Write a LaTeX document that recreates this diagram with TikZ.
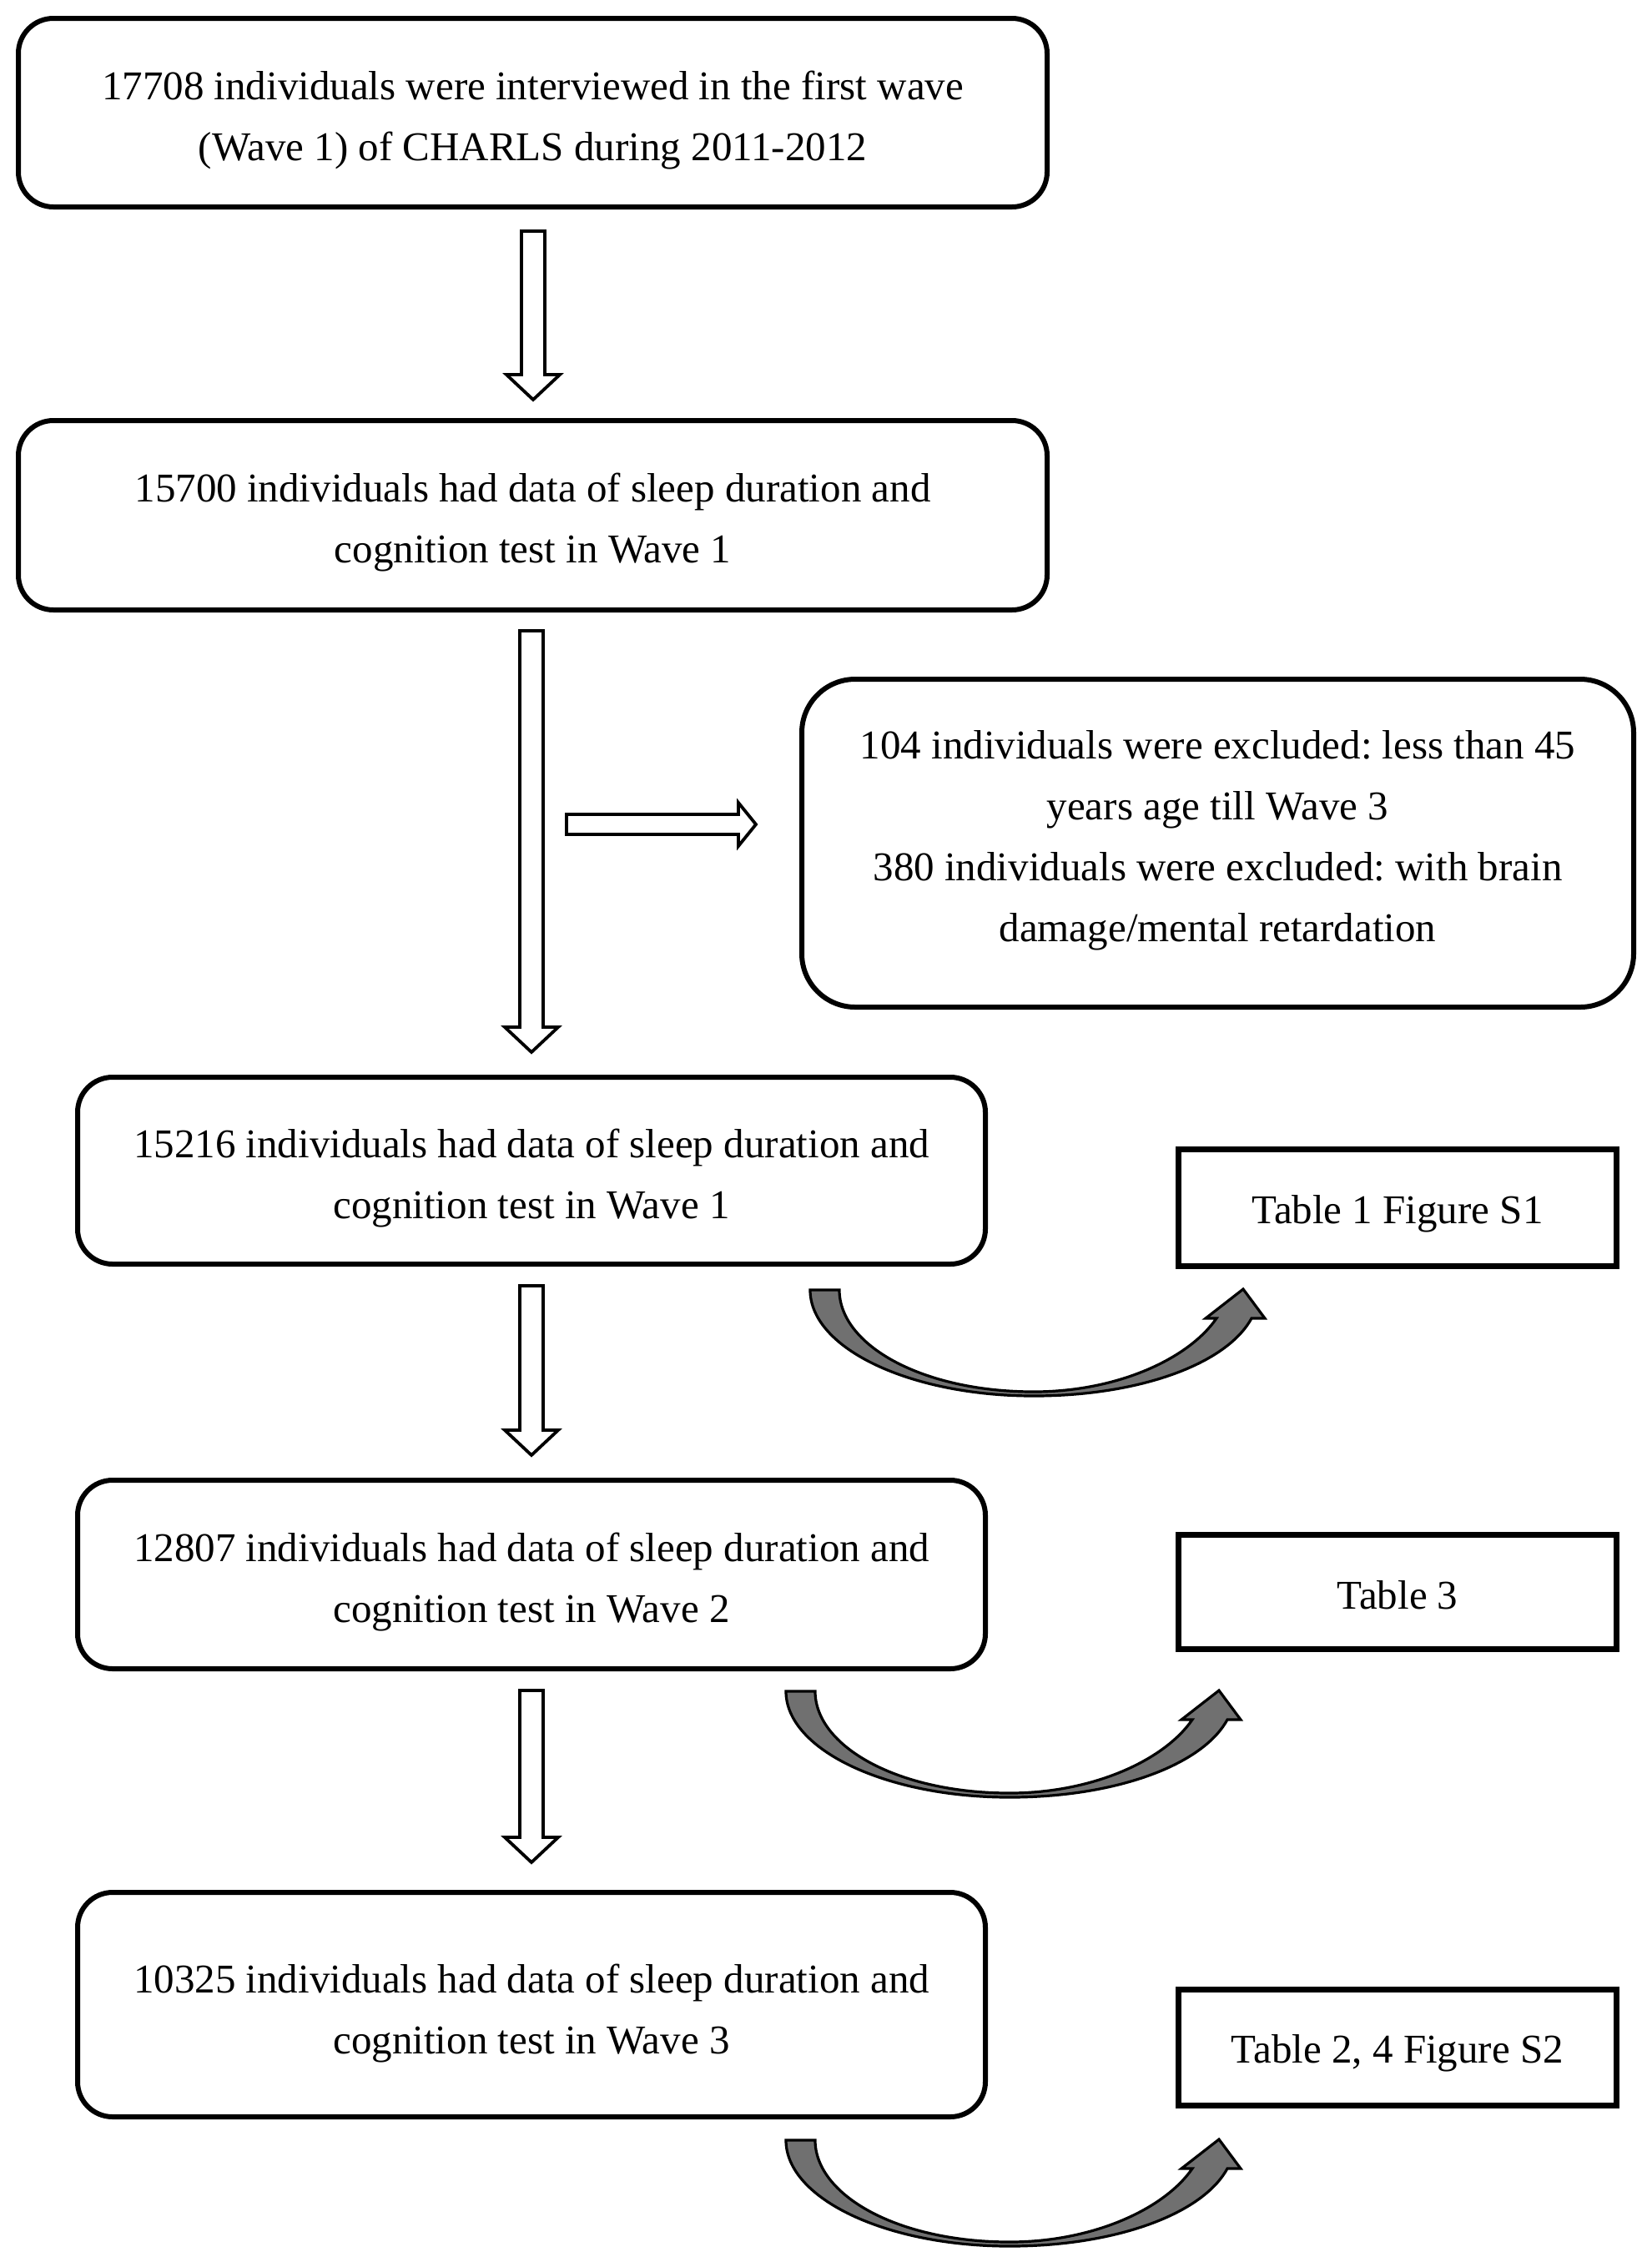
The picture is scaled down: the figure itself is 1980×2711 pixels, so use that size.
\documentclass[tikz,border=0pt]{standalone}
\usepackage{fontspec}
\setmainfont{Liberation Serif}
\frenchspacing
\definecolor{arrowgray}{RGB}{112,112,112}
\newcommand{\vblock}[3]{%
  \draw[hollow] ({#1-14},#2) -- ({#1+14},#2) -- ({#1+14},{#3-30}) -- ({#1+32},{#3-30}) -- (#1,#3) -- ({#1-32},{#3-30}) -- ({#1-14},{#3-30}) -- cycle;}
\newcommand{\curvedarrow}{%
  \draw[curved] (971,1546) .. controls (971,1616) and (1091,1673) .. (1239,1673)
    .. controls (1365,1673) and (1470,1635) .. (1500,1580) -- (1516,1580) -- (1490,1545) -- (1445,1580) -- (1458,1580)
    .. controls (1425,1628) and (1340,1668) .. (1239,1668)
    .. controls (1105,1668) and (1006,1612) .. (1006,1546) -- cycle;}
\begin{document}
\begin{tikzpicture}[x=0.5pt,y=-0.5pt,
  txt/.style={font=\fontsize{24.5pt}{36.5pt}\selectfont, align=center, inner sep=0pt},
  rbox/.style={draw, line width=3pt, rounded corners=21pt, inner sep=0pt},
  tbox/.style={draw, line width=3.5pt, inner sep=0pt},
  hollow/.style={draw, line width=1.9pt, fill=white, line join=miter},
  curved/.style={draw, line width=1.6pt, fill=arrowgray, line join=miter}]
\useasboundingbox (0,0) rectangle (1980,2711);

% boxes
\node[rbox, minimum width=616.5pt, minimum height=113pt] (b1) at (638.5,135) {};
\node[rbox, minimum width=616.5pt, minimum height=113.5pt] (b2) at (638.5,617.5) {};
\node[rbox, rounded corners=32pt, minimum width=498.5pt, minimum height=196.5pt] (ex) at (1459.5,1010.5) {};
\node[rbox, minimum width=544pt, minimum height=112pt] (b3) at (637,1403) {};
\node[rbox, minimum width=544pt, minimum height=113pt] (b4) at (637,1887) {};
\node[rbox, minimum width=544pt, minimum height=134.5pt] (b5) at (637,2402.5) {};
\node[tbox, minimum width=262.5pt, minimum height=70pt] (t1) at (1675,1447.5) {};
\node[tbox, minimum width=262.5pt, minimum height=68.5pt] (t3) at (1675,1908) {};
\node[tbox, minimum width=262.5pt, minimum height=69.5pt] (t24) at (1675,2454) {};

% texts
\node[txt] (b1t) at ([yshift=-4.5pt]b1.center)
  {17708 individuals were interviewed in the first wave\\(Wave 1) of CHARLS during 2011-2012};
\node[txt] (b2t) at ([yshift=-4.5pt]b2.center)
  {15700 individuals had data of sleep duration and\\cognition test in Wave 1};
\node[txt] (ext) at ([yshift=1.5pt]ex.center)
  {104 individuals were excluded: less than 45\\years age till Wave 3\\380 individuals were excluded: with brain\\damage/mental retardation};
\node[txt] (b3t) at ([yshift=-4.5pt]b3.center)
  {15216 individuals had data of sleep duration and\\cognition test in Wave 1};
\node[txt] (b4t) at ([yshift=-4.5pt]b4.center)
  {12807 individuals had data of sleep duration and\\cognition test in Wave 2};
\node[txt] (b5t) at ([yshift=-5.5pt]b5.center)
  {10325 individuals had data of sleep duration and\\cognition test in Wave 3};
\node[txt] (t1t) at ([yshift=-3.5pt]t1.center) {Table 1 Figure S1};
\node[txt] (t3t) at ([yshift=-2pt]t3.center) {Table 3};
\node[txt] (t24t) at ([yshift=-3.5pt]t24.center) {Table 2, 4 Figure S2};

% hollow down arrows
\vblock{639}{277}{479}
\vblock{637}{756}{1261}
\vblock{637}{1541}{1744}
\vblock{637}{2026}{2232}
% hollow right arrow
\draw[hollow] (679,976) -- (885,976) -- (885,962) -- (906,988) -- (885,1014) -- (885,1000) -- (679,1000) -- cycle;

% curved arrows
\curvedarrow
\begin{scope}[shift={(-29,481)}]\curvedarrow\end{scope}
\begin{scope}[shift={(-29,1019)}]\curvedarrow\end{scope}
\end{tikzpicture}
\end{document}
